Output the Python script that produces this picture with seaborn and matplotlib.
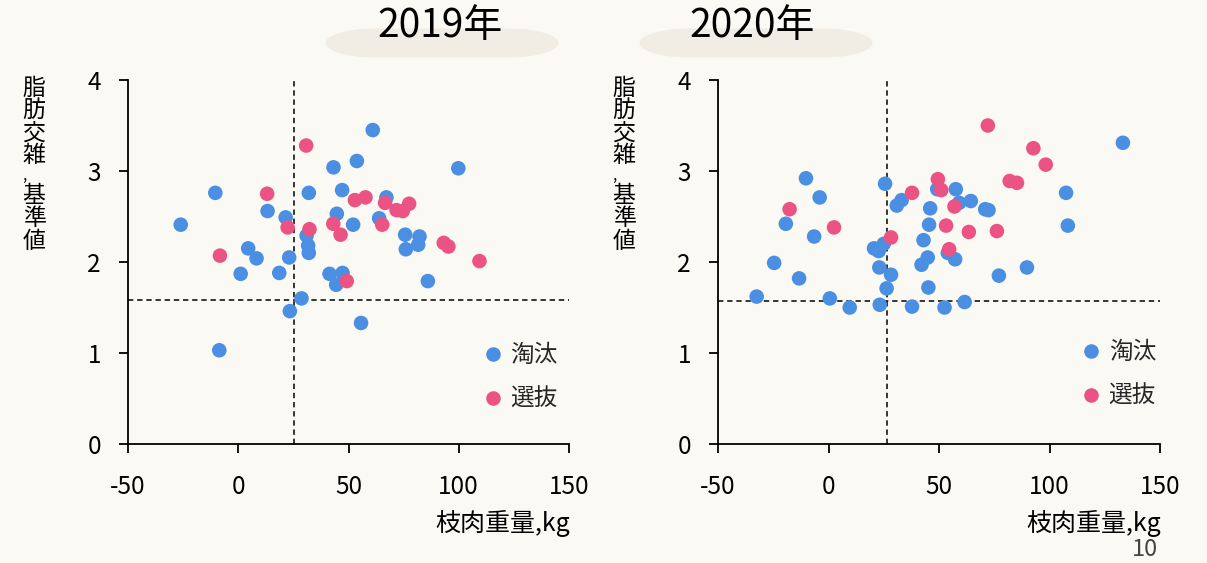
import matplotlib
matplotlib.use("Agg")
import matplotlib.pyplot as plt
import seaborn as sns
import pandas as pd
import numpy as np
from matplotlib.patches import Polygon
from matplotlib.transforms import IdentityTransform

# ---------------- data ----------------
years = ["2019年", "2020年"]
groups = ["淘汰", "選抜"]

# 2019
cull19_x = [-26.1, -10.4, -8.6, 13.3, 4.5, 8.3, 1.1, 18.6, 21.5, 23.1, 23.4, 28.7,
            31.0, 31.7, 32.0, 32.0, 43.2, 53.8, 61.0, 47.1, 44.7, 52.1, 41.4, 47.3,
            44.4, 55.7, 67.2, 63.9, 75.7, 76.0, 82.2, 81.6, 86.0, 99.8]
cull19_y = [2.41, 2.76, 1.03, 2.56, 2.15, 2.04, 1.87, 1.88, 2.49, 2.05, 1.46, 1.60,
            2.29, 2.18, 2.10, 2.76, 3.04, 3.11, 3.45, 2.79, 2.53, 2.41, 1.87, 1.88,
            1.75, 1.33, 2.71, 2.48, 2.30, 2.14, 2.28, 2.19, 1.79, 3.03]
sel19_x = [30.8, 13.1, -8.3, 22.4, 32.3, 43.1, 46.4, 49.2, 52.9, 57.7, 65.3, 66.6,
           71.8, 74.6, 77.5, 93.2, 95.3, 109.4]
sel19_y = [3.28, 2.75, 2.07, 2.38, 2.36, 2.42, 2.30, 1.79, 2.68, 2.71, 2.41, 2.65,
           2.57, 2.56, 2.64, 2.21, 2.17, 2.01]

# 2020
cull20_x = [-32.5, -24.6, -13.3, -19.3, -10.2, -4.0, -6.5, 0.6, 9.6, 20.6, 22.7, 25.0,
            23.0, 23.2, 28.3, 26.3, 25.6, 30.9, 33.1, 37.8, 42.1, 43.0, 44.9, 45.2,
            45.5, 46.0, 49.2, 57.6, 59.1, 64.4, 52.5, 54.0, 57.3, 61.6, 70.9, 72.4,
            77.1, 89.8, 107.5, 108.3, 133.2]
cull20_y = [1.62, 1.99, 1.82, 2.42, 2.92, 2.71, 2.28, 1.60, 1.50, 2.15, 2.12, 2.20,
            1.94, 1.53, 1.86, 1.71, 2.86, 2.62, 2.68, 1.51, 1.97, 2.24, 2.05, 1.72,
            2.41, 2.59, 2.80, 2.80, 2.65, 2.67, 1.50, 2.10, 2.03, 1.56, 2.58, 2.57,
            1.85, 1.94, 2.76, 2.40, 3.31]
sel20_x = [-17.6, 2.5, 28.3, 37.8, 49.5, 51.0, 57.0, 53.2, 54.6, 63.5, 76.2, 72.1,
           82.0, 85.3, 92.7, 98.3]
sel20_y = [2.58, 2.38, 2.27, 2.76, 2.91, 2.79, 2.61, 2.40, 2.14, 2.33, 2.34, 3.50,
           2.89, 2.87, 3.25, 3.07]

# reference lines (x = 枝肉重量, y = 脂肪交雑)
ref_x = [25.5, 26.3]
ref_y = [1.58, 1.57]

x_ticks = [-50, 0, 50, 100, 150]
y_ticks = [0, 1, 2, 3, 4]

# ---------------- style ----------------
BG = "#FBF9F4"
PILL = "#F1ECE4"
palette = {"淘汰": "#4A8FE2", "選抜": "#EC5385"}
sns.set_style("ticks")
plt.rcParams["font.family"] = ["Noto Sans CJK JP", "DejaVu Sans"]

W, H = 1207, 563
fig = plt.figure(figsize=(W / 100, H / 100), dpi=100, facecolor=BG)

axes_px = [(128, 569), (718, 1160)]
top_px, bot_px = 80, 444
legend_anchor = [(0.80, 0.1825), (0.817, 0.1907)]

datasets = [
    (cull19_x, cull19_y, sel19_x, sel19_y),
    (cull20_x, cull20_y, sel20_x, sel20_y),
]
title_cx = [440, 752]
pill_cx = [442, 756]


def pill_shape(cx, cy, w, h, rx):
    """Rounded-rectangle outline with elliptical ends, in pixel coords (top-left origin)."""
    ry = h / 2
    t = np.linspace(-np.pi / 2, np.pi / 2, 40)
    right = np.column_stack([cx + w / 2 - rx + rx * np.cos(t), cy + ry * np.sin(t)])
    t2 = np.linspace(np.pi / 2, 3 * np.pi / 2, 40)
    left = np.column_stack([cx - w / 2 + rx + rx * np.cos(t2), cy + ry * np.sin(t2)])
    pts = np.vstack([right, left])
    pts[:, 1] = H - pts[:, 1]
    return pts


for i, (cx, cy, sx, sy) in enumerate(datasets):
    l, r = axes_px[i]
    ax = fig.add_axes([l / W, (H - bot_px) / H, (r - l) / W, (bot_px - top_px) / H])
    ax.set_facecolor(BG)
    df = pd.DataFrame({
        "x": cx + sx,
        "y": cy + sy,
        "g": [groups[0]] * len(cx) + [groups[1]] * len(sx),
    })
    sns.scatterplot(data=df, x="x", y="y", hue="g", palette=palette,
                    hue_order=groups, s=110, linewidth=0, ax=ax, legend=True,
                    zorder=3)
    ax.axvline(ref_x[i], color="black", lw=1.1, ls=(0, (3.5, 2.5)), zorder=2)
    ax.axhline(ref_y[i], color="black", lw=1.1, ls=(0, (3.5, 2.5)), zorder=2)
    ax.set_xlim(-50, 150)
    ax.set_ylim(0, 4)
    ax.set_xticks(x_ticks)
    ax.set_yticks(y_ticks)
    ax.set_xticklabels([str(t) for t in x_ticks])
    ax.set_yticklabels([str(t) for t in y_ticks])
    for side in ["top", "right"]:
        ax.spines[side].set_visible(False)
    for side in ["left", "bottom"]:
        ax.spines[side].set_linewidth(1.3)
        ax.spines[side].set_color("black")
    ax.tick_params(axis="both", direction="out", length=6.5, width=1.3,
                   labelsize=17.5, colors="black")
    ax.tick_params(axis="x", pad=15)
    ax.tick_params(axis="y", pad=13)
    ax.set_xlabel("")
    ax.set_ylabel("")

    handles, labels = ax.get_legend_handles_labels()
    ax.legend(handles, labels, loc="center left",
              bbox_to_anchor=legend_anchor[i], frameon=False, fontsize=17,
              handlelength=1.0, handletextpad=0.25, labelspacing=0.9,
              markerscale=1.0, borderaxespad=0, borderpad=0)

    # x label
    fig.text((r + 1) / W, (H - 523) / H, "枝肉重量,kg", ha="right", va="center",
             fontsize=18, color="black")

    # vertical y label (stacked characters)
    chars = ["脂", "肪", "交", "雑", ",", "基", "準", "値"]
    ylab_x = l - 94
    y0 = 88
    pitch = 22.5
    k = 0
    for ch in chars:
        if ch == ",":
            fig.text((ylab_x - 12) / W, (H - 175) / H, ch,
                     ha="left", va="center", fontsize=11, color="black")
            k += 0.8
            continue
        fig.text(ylab_x / W, (H - (y0 + pitch * k)) / H, ch, ha="center",
                 va="center", fontsize=16.5, color="black")
        k += 1

    # title pill
    pts = pill_shape(pill_cx[i], 43, 233, 29, 50)
    fig.patches.append(Polygon(pts, closed=True, transform=IdentityTransform(),
                               facecolor=PILL, edgecolor="none", zorder=0))
    fig.text(title_cx[i] / W, (H - 26) / H, years[i], ha="center", va="center",
             fontsize=28, color="black", zorder=5)

fig.text(1145 / W, (H - 550) / H, "10", ha="center", va="center", fontsize=17,
         color="#444444")

fig.savefig("out.png", dpi=100, facecolor=BG)
